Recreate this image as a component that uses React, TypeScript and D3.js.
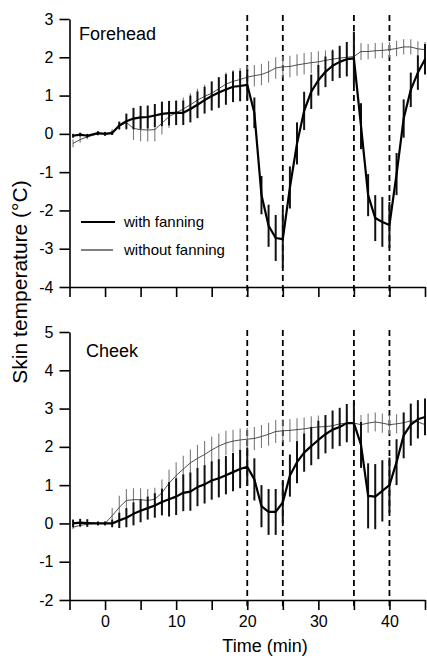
import { useEffect, useRef } from "react"
import * as d3 from "d3"

// sampling times (min)
const times = [
    -4.5, -3.5, -2.5, -1, 0, 1, 2, 3, 4, 5, 6, 7, 8, 9, 10, 11, 12, 13, 14, 15, 16, 17, 18, 19, 20,
    21, 22, 23, 24, 25, 26, 27, 28, 29, 30, 31, 32, 33, 34, 35, 36, 37, 38, 39, 40, 41, 42, 43, 44, 45,
]

// Forehead
const foreheadWith = [
    -0.05, -0.02, -0.05, 0.02, 0.0, 0.02, 0.22, 0.33, 0.4, 0.43, 0.44, 0.48, 0.52, 0.54, 0.55, 0.55, 0.65, 0.76, 0.88, 0.99, 1.08, 1.16, 1.23, 1.25, 1.28,
    0.55, -1.6, -2.4, -2.72, -2.75, -1.4, -0.25, 0.6, 1.1, 1.4, 1.62, 1.78, 1.88, 1.95, 1.97, 0.2, -1.6, -2.2, -2.3, -2.38, -1.05, 0.4, 1.15, 1.6, 1.95,
]
const foreheadWithErr = [
    0.05, 0.05, 0.05, 0.05, 0.05, 0.05, 0.1, 0.2, 0.28, 0.3, 0.3, 0.3, 0.32, 0.32, 0.32, 0.32, 0.35, 0.35, 0.35, 0.38, 0.4, 0.4, 0.4, 0.4, 0.4,
    0.4, 0.5, 0.55, 0.6, 0.75, 0.55, 0.55, 0.5, 0.45, 0.4, 0.4, 0.4, 0.42, 0.45, 0.7, 0.6, 0.55, 0.6, 0.65, 0.6, 0.55, 0.5, 0.45, 0.45, 0.4,
]
const foreheadWithout = [
    -0.25, -0.15, -0.08, 0.0, 0.0, 0.05, 0.2, 0.3, 0.14, 0.11, 0.1, 0.11, 0.28, 0.45, 0.55, 0.65, 0.76, 0.88, 0.98, 1.06, 1.18, 1.3, 1.37, 1.42, 1.48,
    1.52, 1.55, 1.62, 1.72, 1.75, 1.76, 1.8, 1.83, 1.86, 1.88, 1.92, 1.95, 1.98, 2.0, 2.02, 2.15, 2.15, 2.17, 2.18, 2.2, 2.23, 2.27, 2.27, 2.22, 2.2,
]
const foreheadWithoutErr = [
    0.1, 0.08, 0.06, 0.05, 0.05, 0.08, 0.1, 0.2, 0.3, 0.3, 0.3, 0.3, 0.3, 0.3, 0.3, 0.3, 0.3, 0.3, 0.3, 0.3, 0.3, 0.3, 0.3, 0.3, 0.3,
    0.28, 0.28, 0.28, 0.28, 0.28, 0.28, 0.28, 0.28, 0.28, 0.28, 0.26, 0.26, 0.26, 0.26, 0.25, 0.22, 0.2, 0.2, 0.2, 0.2, 0.2, 0.2, 0.2, 0.2, 0.2,
]

// Cheek
const cheekWith = [
    0.0, 0.02, 0.01, 0.0, 0.0, 0.0, 0.08, 0.15, 0.25, 0.33, 0.4, 0.47, 0.56, 0.63, 0.7, 0.8, 0.83, 0.95, 1.02, 1.12, 1.18, 1.26, 1.34, 1.42, 1.48,
    1.15, 0.45, 0.3, 0.3, 0.55, 1.25, 1.6, 1.85, 2.02, 2.18, 2.33, 2.45, 2.52, 2.62, 2.62, 2.05, 0.72, 0.7, 0.85, 1.0, 1.6, 2.3, 2.58, 2.72, 2.78,
]
const cheekWithErr = [
    0.1, 0.1, 0.1, 0.05, 0.05, 0.1, 0.2, 0.25, 0.3, 0.3, 0.3, 0.32, 0.35, 0.45, 0.48, 0.48, 0.5, 0.5, 0.5, 0.5, 0.5, 0.5, 0.5, 0.5, 0.5,
    0.55, 0.55, 0.6, 0.6, 0.55, 0.55, 0.55, 0.5, 0.5, 0.5, 0.5, 0.5, 0.5, 0.5, 0.57, 0.6, 0.85, 0.85, 0.8, 0.72, 0.6, 0.6, 0.55, 0.5, 0.48,
]
const cheekWithout = [
    -0.1, -0.05, -0.02, 0.0, 0.0, 0.2, 0.42, 0.6, 0.62, 0.62, 0.6, 0.63, 0.8, 1.05, 1.25, 1.42, 1.58, 1.7, 1.8, 1.92, 2.02, 2.1, 2.15, 2.18, 2.2,
    2.22, 2.27, 2.33, 2.4, 2.42, 2.43, 2.45, 2.47, 2.5, 2.52, 2.53, 2.55, 2.6, 2.62, 2.62, 2.58, 2.62, 2.65, 2.62, 2.58, 2.6, 2.63, 2.68, 2.65, 2.58,
]
const cheekWithoutErr = [
    0.05, 0.05, 0.05, 0.05, 0.05, 0.2, 0.3, 0.3, 0.3, 0.3, 0.3, 0.3, 0.35, 0.35, 0.35, 0.35, 0.35, 0.35, 0.35, 0.35, 0.33, 0.32, 0.3, 0.3, 0.3,
    0.3, 0.3, 0.3, 0.3, 0.3, 0.3, 0.3, 0.3, 0.3, 0.3, 0.3, 0.3, 0.3, 0.3, 0.3, 0.25, 0.25, 0.25, 0.25, 0.25, 0.25, 0.25, 0.25, 0.25, 0.25,
]

const fanMarks = [20, 25, 35, 40]
const xTicks = [-5, 0, 5, 10, 15, 20, 25, 30, 35, 40, 45]
const xLabels = [0, 10, 20, 30, 40]

const FONT = "'Liberation Sans', Arial, Helvetica, sans-serif"

type Pt = { t: number; v: number; e: number }

const zip = (vals: number[], errs: number[]): Pt[] => times.map((t, i) => ({ t, v: vals[i], e: errs[i] }))

export default function App() {
    const svgRef = useRef<SVGSVGElement | null>(null)

    useEffect(() => {
        if (!svgRef.current) return
        const svg = d3.select(svgRef.current)
        svg.selectAll("*").remove()

        const x = d3.scaleLinear().domain([-5, 45]).range([69.5, 425])

        const panels = [
            {
                name: "Forehead",
                y: d3.scaleLinear().domain([-4, 3]).range([287, 19]),
                with: zip(foreheadWith, foreheadWithErr),
                without: zip(foreheadWithout, foreheadWithoutErr),
                labelPos: [79, 40],
                dash: [15, 297],
                showLabels: false,
            },
            {
                name: "Cheek",
                y: d3.scaleLinear().domain([-2, 5]).range([600, 332]),
                with: zip(cheekWith, cheekWithErr),
                without: zip(cheekWithout, cheekWithoutErr),
                labelPos: [86, 357],
                dash: [330, 610],
                showLabels: true,
            },
        ]

        panels.forEach((p) => {
            const g = svg.append("g")
            const [y0] = p.y.range()

            // y axis (plain hyphen for negatives, like the original)
            const yAxis = d3.axisLeft(p.y).ticks(7).tickSize(10).tickSizeOuter(0).tickPadding(6).tickFormat((d) => String(d))
            const yg = g.append("g").attr("transform", `translate(${x(-5)},0)`).call(yAxis)

            // x axis
            const xAxis = d3
                .axisBottom(x)
                .tickValues(xTicks)
                .tickSize(10)
                .tickSizeOuter(0)
                .tickPadding(6)
                .tickFormat((d) => (p.showLabels && xLabels.includes(+d) ? String(d) : ""))
            const xg = g.append("g").attr("transform", `translate(0,${y0})`).call(xAxis)

            ;[yg, xg].forEach((ax) => {
                ax.selectAll("path,line").attr("stroke", "#000").attr("stroke-width", 1.6)
                ax.selectAll("text").attr("font-family", FONT).attr("font-size", 16).attr("fill", "#000")
            })

            // fanning markers
            g.selectAll(".fan")
                .data(fanMarks)
                .enter()
                .append("line")
                .attr("x1", (d) => x(d))
                .attr("x2", (d) => x(d))
                .attr("y1", p.dash[0])
                .attr("y2", p.dash[1])
                .attr("stroke", "#000")
                .attr("stroke-width", 1.8)
                .attr("stroke-dasharray", "6,4")

            const line = d3
                .line<Pt>()
                .x((d) => x(d.t))
                .y((d) => p.y(d.v))

            // without fanning (thin, grey bars)
            g.append("g")
                .selectAll("line")
                .data(p.without)
                .enter()
                .append("line")
                .attr("x1", (d) => x(d.t))
                .attr("x2", (d) => x(d.t))
                .attr("y1", (d) => p.y(d.v - d.e))
                .attr("y2", (d) => p.y(d.v + d.e))
                .attr("stroke", "#7a7a7a")
                .attr("stroke-width", 1.1)

            g.append("path")
                .datum(p.without)
                .attr("fill", "none")
                .attr("stroke", "#3a3a3a")
                .attr("stroke-width", 0.9)
                .attr("d", line)

            // with fanning (thick)
            g.append("g")
                .selectAll("line")
                .data(p.with)
                .enter()
                .append("line")
                .attr("x1", (d) => x(d.t))
                .attr("x2", (d) => x(d.t))
                .attr("y1", (d) => p.y(d.v - d.e))
                .attr("y2", (d) => p.y(d.v + d.e))
                .attr("stroke", "#111")
                .attr("stroke-width", 2)

            g.append("path")
                .datum(p.with)
                .attr("fill", "none")
                .attr("stroke", "#000")
                .attr("stroke-width", 2.2)
                .attr("stroke-linejoin", "round")
                .attr("d", line)

            g.append("text")
                .attr("x", p.labelPos[0])
                .attr("y", p.labelPos[1])
                .attr("font-family", FONT)
                .attr("font-size", 18)
                .text(p.name)
        })

        // legend
        const legend = [
            { label: "with fanning", w: 2.2, y: 222, x2: 115 },
            { label: "without fanning", w: 1, y: 250, x2: 113 },
        ]
        legend.forEach((l) => {
            svg.append("line")
                .attr("x1", 81)
                .attr("x2", l.x2)
                .attr("y1", l.y)
                .attr("y2", l.y)
                .attr("stroke", "#000")
                .attr("stroke-width", l.w)
            svg.append("text")
                .attr("x", 124)
                .attr("y", l.y)
                .attr("dy", "0.35em")
                .attr("font-family", FONT)
                .attr("font-size", 15)
                .text(l.label)
        })

        // axis titles
        svg.append("text")
            .attr("transform", "translate(27,282) rotate(-90)")
            .attr("text-anchor", "middle")
            .attr("font-family", FONT)
            .attr("font-size", 21)
            .text("Skin temperature (°C)")

        svg.append("text")
            .attr("x", 265)
            .attr("y", 652)
            .attr("text-anchor", "middle")
            .attr("font-family", FONT)
            .attr("font-size", 18)
            .text("Time (min)")
    }, [])

    return (
        <svg
            ref={svgRef}
            width={427}
            height={658}
            style={{ position: "absolute", left: 0, top: 0, background: "#fff" }}
        />
    )
}
